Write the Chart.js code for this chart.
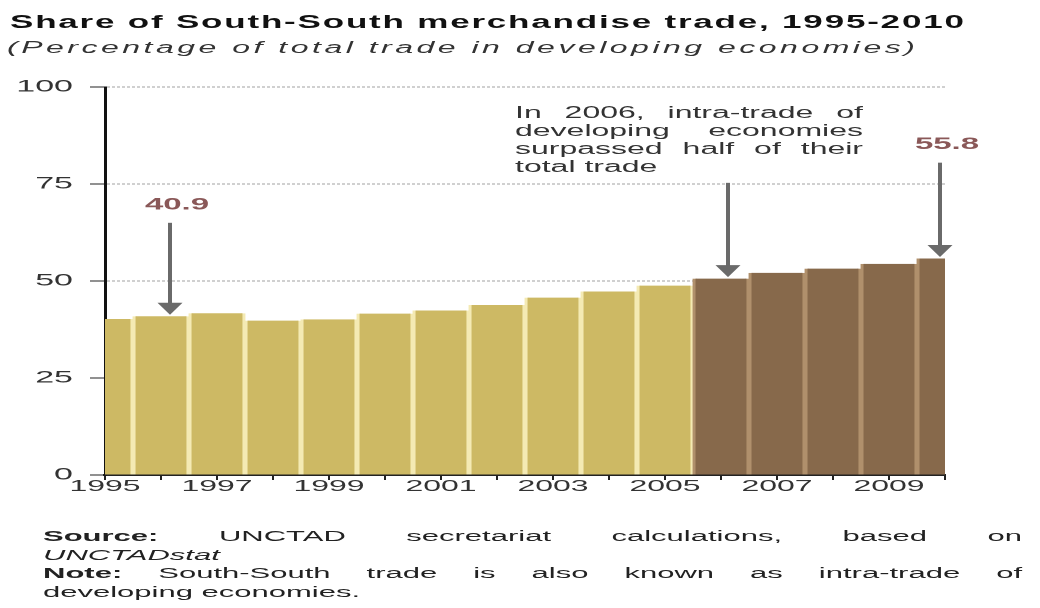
<!DOCTYPE html>
<html>
<head>
<meta charset="utf-8">
<script src="https://cdn.jsdelivr.net/npm/chart.js@4/dist/chart.umd.min.js"></script>
<style>
  html, body { margin: 0; padding: 0; background: #fff; overflow: hidden; }
  body { width: 1040px; height: 608px; position: relative; }
  /* the reference picture is stretched twice as wide, so is this page */
  #page {
    position: absolute; left: 0; top: 0; width: 520px; height: 608px;
    transform: scaleX(2); transform-origin: 0 0;
    font-family: "Liberation Sans", Arial, sans-serif; color: #222;
  }
  #page canvas { position: absolute; left: 0; top: 0; }
  .txt { position: absolute; white-space: nowrap; }
  .just { text-align: justify; text-align-last: justify; white-space: normal; }
  #title { left: 5px; top: 12px; font-size: 17.5px; font-weight: bold; line-height: 20px; letter-spacing: 0.9px; color: #111; }
  #subtitle { left: 3.5px; top: 38px; font-size: 16px; font-style: italic; line-height: 20px; letter-spacing: 1.75px; color: #333; }
  #callout { left: 257.5px; top: 104px; width: 174px; font-size: 16px; line-height: 18px; color: #333; }
  #callout div, #notes div { height: 18px; }
  #notes { left: 21.5px; top: 527px; width: 489.5px; font-size: 15.5px; line-height: 18.5px; color: #222; }
  #notes div { height: 18.5px; }
</style>
</head>
<body>
<div id="page">
  <canvas id="chart" width="520" height="608"></canvas>
  <div id="title" class="txt">Share of South-South merchandise trade, 1995-2010</div>
  <div id="subtitle" class="txt">(Percentage of total trade in developing economies)</div>
  <div id="callout" class="txt">
    <div class="just">In 2006, intra-trade of</div>
    <div class="just">developing economies</div>
    <div class="just">surpassed half of their</div>
    <div>total trade</div>
  </div>
  <div id="notes" class="txt">
    <div class="just"><b>Source:</b> UNCTAD secretariat calculations, based on</div>
    <div><i>UNCTADstat</i></div>
    <div class="just"><b>Note:</b> South-South trade is also known as intra-trade of</div>
    <div>developing economies.</div>
  </div>
</div>
<script>
const years = [1995, 1996, 1997, 1998, 1999, 2000, 2001, 2002, 2003, 2004, 2005, 2006, 2007, 2008, 2009, 2010];
const share = [40.2, 40.9, 41.7, 39.8, 40.1, 41.6, 42.4, 43.8, 45.7, 47.3, 48.8, 50.6, 52.1, 53.2, 54.4, 55.8];
const yTicks = [0, 25, 50, 75, 100];
const xLabelYears = [1995, 1997, 1999, 2001, 2003, 2005, 2007, 2009];
const halfYear = 2006; // from this year on South-South trade is above half

const gold = '#CDB964', goldEdge = '#F4EAB4';
const brown = '#87694B', brownEdge = '#B0906C';

// arrows pointing at bar tops; top = value where the shaft starts, dx = pixel nudge
const arrows = [
    {year: 1996, top: 65,   dx: 4.5,  label: true},
    {year: 2006, top: 75.3, dx: 3.5,  label: false},
    {year: 2010, top: 80.5, dx: -2.5, label: true}
];

const arrowPlugin = {
    id: 'arrows',
    afterDatasetsDraw(chart) {
        let ctx = chart.ctx,
            xs  = chart.scales.x,
            ys  = chart.scales.y;

        ctx.save();
        arrows.forEach(a => {
            let i    = years.indexOf(a.year),
                x    = xs.getPixelForValue(a.year) + a.dx,
                y0   = ys.getPixelForValue(a.top),
                tip  = ys.getPixelForValue(share[i]) - 1.5,
                head = 12;

            ctx.strokeStyle = '#6a6a6a';
            ctx.fillStyle   = '#6a6a6a';
            ctx.lineWidth   = 2;
            ctx.beginPath();
            ctx.moveTo(x, y0);
            ctx.lineTo(x, tip - head + 1);
            ctx.stroke();

            ctx.beginPath();
            ctx.moveTo(x - 6.25, tip - head);
            ctx.lineTo(x + 6.25, tip - head);
            ctx.lineTo(x, tip);
            ctx.closePath();
            ctx.fill();

            if (a.label) {
                ctx.font         = 'bold 16.5px "Liberation Sans", Arial, sans-serif';
                ctx.fillStyle    = '#8A5858';
                ctx.textAlign    = 'center';
                ctx.textBaseline = 'middle';
                ctx.fillText(share[i].toFixed(1), x + 3.5, y0 - 18);
            }
        });
        ctx.restore();
    }
};

new Chart(document.getElementById('chart'), {
    type: 'bar',
    data: {
        datasets: [{
            data: years.map((yr, i) => ({x: yr, y: share[i]})),
            backgroundColor: years.map(yr => yr < halfYear ? gold : brown),
            borderColor: years.map(yr => yr < halfYear ? goldEdge : brownEdge),
            borderWidth: {left: 1.6, right: 1.6, top: 0, bottom: 0},
            borderSkipped: false,
            barPercentage: 1,
            categoryPercentage: 1
        }]
    },
    options: {
        responsive: false,
        animation: false,
        devicePixelRatio: 2,
        layout: {padding: {top: 87, right: 47.5, bottom: 0, left: 0}},
        plugins: {legend: {display: false}, tooltip: {enabled: false}},
        scales: {
            x: {
                type: 'linear',
                min: 1995,
                max: 2010,
                offset: false,
                afterBuildTicks: scale => { scale.ticks = years.map(v => ({value: v})); },
                afterFit: scale => { scale.height = 133; },
                grid: {offset: false, drawOnChartArea: false, drawTicks: true, tickLength: 5, color: '#222', lineWidth: 1},
                border: {display: true, color: '#222', width: 2},
                ticks: {
                    autoSkip: false,
                    maxRotation: 0,
                    padding: -3,
                    color: '#333',
                    font: {family: '"Liberation Sans", Arial, sans-serif', size: 16},
                    callback: v => xLabelYears.includes(v) ? String(v) : ''
                }
            },
            y: {
                min: 0,
                max: 100,
                afterBuildTicks: scale => { scale.ticks = yTicks.map(v => ({value: v})); },
                afterFit: scale => { scale.width = 52.5; },
                grid: {color: '#a0a0a0', lineWidth: 1, tickColor: '#222', tickBorderDash: [], tickLength: 7.5},
                border: {display: true, color: '#111', width: 1.5, dash: [1.5, 1]},
                ticks: {
                    padding: 8.5,
                    color: '#333',
                    font: {family: '"Liberation Sans", Arial, sans-serif', size: 17}
                }
            }
        }
    },
    plugins: [arrowPlugin]
});
</script>
</body>
</html>
